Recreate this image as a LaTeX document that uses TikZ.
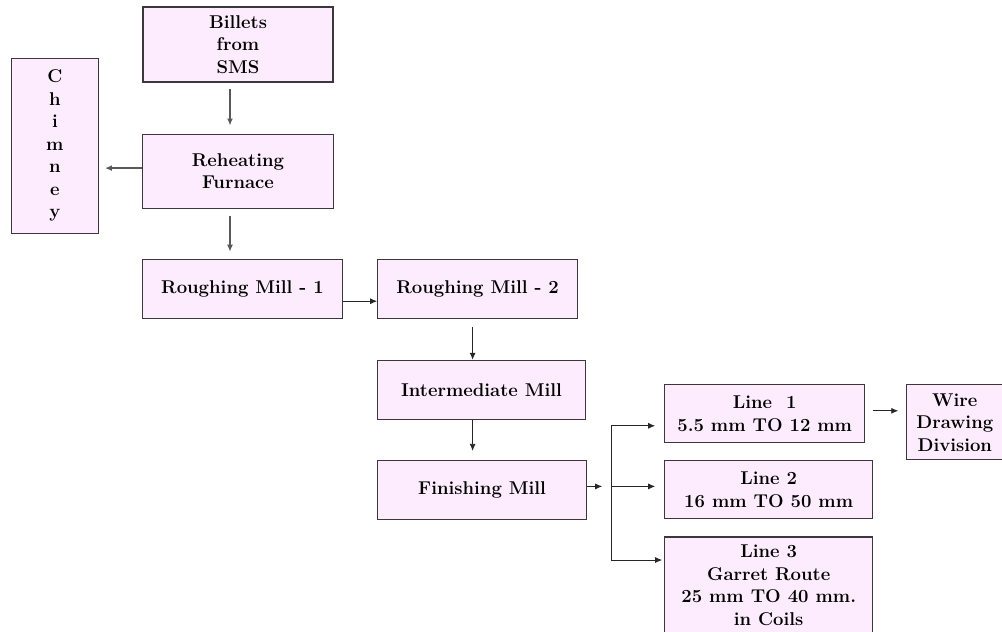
\documentclass[tikz,border=0pt]{standalone}
\usepackage{tikz}
\usetikzlibrary {arrows.meta,
                 calc,
                 positioning}
\definecolor{boxpink}{RGB}{253,236,253}
\definecolor{boxline}{RGB}{60,55,60}
\tikzset{
        base/.style={draw=boxline, fill=boxpink, line width=1.1pt, align=center,
                     inner sep=0pt, font=\fontsize{18.5}{22.5}\selectfont\bfseries},
        proc/.style={base, rectangle, minimum width=200pt, minimum height=59pt},
        myarrow/.style={-{Latex[length=7pt,width=6pt]}, line width=0.8pt, black!85},
        grayarrow/.style={-{Latex[length=7pt,width=6pt]}, line width=1.6pt, black!65},
 }

\begin{document}
\begin{tikzpicture}[x=1pt, y=1pt]
    \useasboundingbox (0,0) rectangle (1002,-632);

    \node[base, minimum width=190pt, minimum height=75pt] (billets) at (238,-44.5) {Billets\\from\\SMS};
    \node[base, minimum width=191pt, minimum height=74pt, below=51pt of billets] (furnace) {Reheating\\Furnace};
    \node[base, minimum width=87pt, minimum height=175pt, left=43pt of furnace, yshift=25.5pt] (chimney) {C\\h\\i\\m\\n\\e\\y};

    \node[proc, below=50pt of furnace, xshift=4.5pt] (rm1) {Roughing Mill - 1};
    \node[proc, right=34pt of rm1] (rm2) {Roughing Mill - 2};
    \node[proc, minimum width=208pt, below=41pt of rm2.south west, anchor=north west] (im) {Intermediate Mill};
    \node[proc, minimum width=209pt, below=40pt of im.south west, anchor=north west] (fm) {Finishing Mill};

    \node[proc, minimum width=208pt, minimum height=58pt, right=77pt of fm] (l2) {Line 2\\16 mm TO 50 mm};
    \node[proc, minimum height=58pt, above=17pt of l2.north west, anchor=south west] (l1) {Line\ \ 1\\5.5 mm TO 12 mm};
    \node[proc, minimum width=208pt, minimum height=97pt, below=17pt of l2.south west, anchor=north west] (l3) {Line 3\\Garret Route\\25 mm TO 40 mm.\\in Coils};
    \node[base, minimum width=96pt, minimum height=75pt, right=41pt of l1.north east, anchor=north west] (wd) {Wire\\Drawing\\Division};

    \draw[grayarrow] ([xshift=-8pt,yshift=-6pt]billets.south) -- ([xshift=-8pt,yshift=8pt]furnace.north);
    \draw[grayarrow] ([yshift=3pt]furnace.west) -- ([xshift=6pt,yshift=-22.5pt]chimney.east);
    \draw[grayarrow] ([xshift=-8pt,yshift=-7pt]furnace.south) -- ([xshift=-12.5pt,yshift=7pt]rm1.north);

    \draw[myarrow] ([yshift=-12.5pt]rm1.east) -- ([yshift=-12.5pt]rm2.west);
    \draw[myarrow] ([xshift=-5pt,yshift=-8pt]rm2.south) -- ([xshift=-9pt]im.north);
    \draw[myarrow] ([xshift=-9pt]im.south) -- ([xshift=-9.5pt,yshift=9pt]fm.north);

    \coordinate (fork) at ([xshift=24pt,yshift=3.5pt]fm.east);
    \coordinate (l1in) at ([yshift=-12pt]l1.west);
    \coordinate (l3in) at ([yshift=25.5pt]l3.west);
    \coordinate (l1out) at ([xshift=8pt,yshift=3pt]l1.east);
    \draw[myarrow] ([yshift=3.5pt]fm.east) -- ([xshift=-9pt]fork);
    \draw[line width=0.8pt, black!85] (l1in -| fork) -- (l3in -| fork);
    \draw[myarrow] (l1in -| fork) -- ([xshift=-9pt]l1in);
    \draw[myarrow] (fork) -- ([xshift=-9pt,yshift=3.5pt]l2.west);
    \draw[myarrow] (l3in -| fork) -- ([xshift=-2pt]l3in);

    \draw[myarrow] (l1out) -- ([xshift=-8pt]l1out -| wd.west);
\end{tikzpicture}
\end{document}
